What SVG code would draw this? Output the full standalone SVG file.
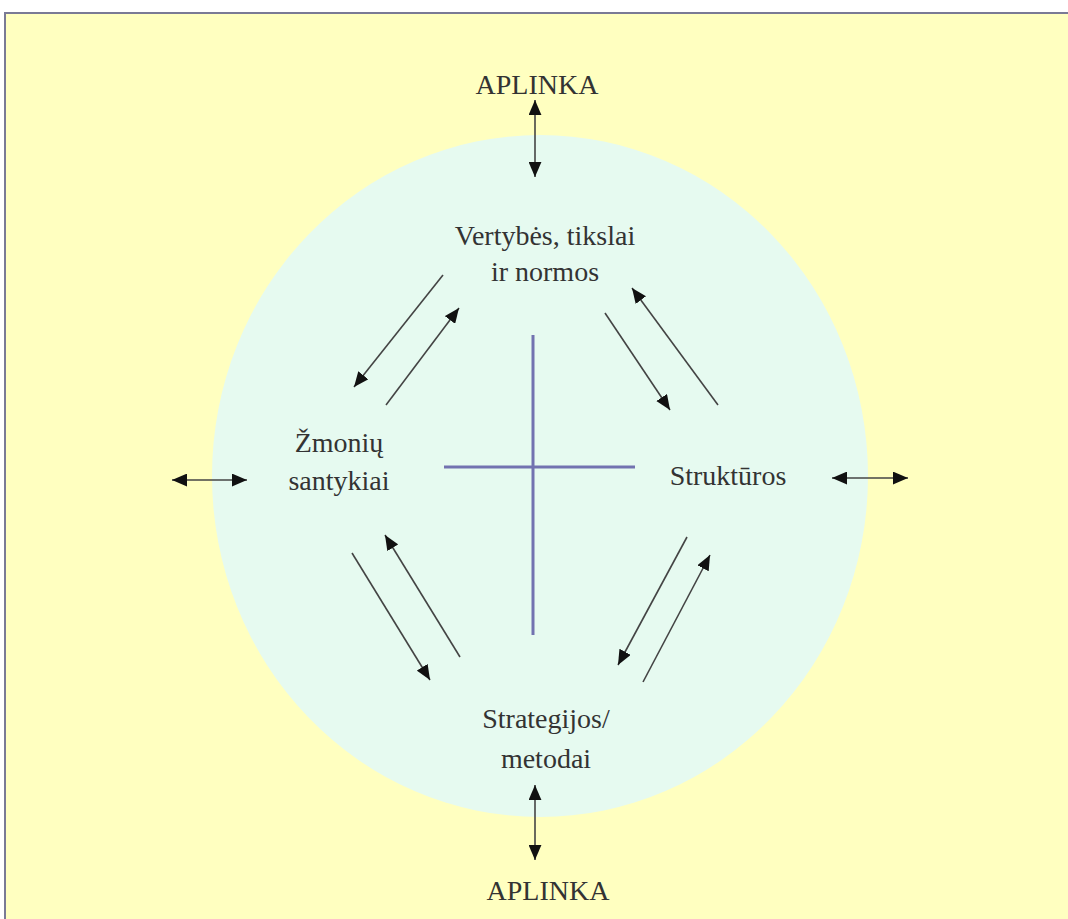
<svg xmlns="http://www.w3.org/2000/svg" width="1068" height="919" viewBox="0 0 1068 919">
<style>
.t{font-family:"Liberation Serif","Times New Roman",serif;font-size:28px;fill:#333;text-anchor:middle}
.c{stroke:#444;stroke-width:1.6;fill:none}
.x{stroke:#7272b0;stroke-width:3;fill:none}
</style>
<defs>
<marker id="ah" viewBox="0 0 14 12" refX="14" refY="6" markerWidth="15" markerHeight="13" markerUnits="userSpaceOnUse" orient="auto-start-reverse">
<path d="M0,0 L14,6 L0,12 Z" fill="#111"/>
</marker>
</defs>
<rect x="0" y="0" width="1068" height="919" fill="#ffffff"/>
<rect x="5" y="13" width="1070" height="920" fill="#ffffc0" stroke="#7a7a95" stroke-width="2"/>
<ellipse cx="540" cy="476" rx="328" ry="341" fill="#e6faf0"/>
<g id="cross">
<line class="x" x1="533" y1="335" x2="533" y2="635"/>
<line class="x" x1="444" y1="467" x2="635" y2="467"/>
</g>
<g id="aplinka-top"><text class="t" x="537" y="94">APLINKA</text></g>
<g id="vertybes"><text class="t" x="545" y="245">Vertybės, tikslai</text><text class="t" x="545" y="281">ir normos</text></g>
<g id="zmoniu"><text class="t" x="339" y="452">Žmonių</text><text class="t" x="339" y="490">santykiai</text></g>
<g id="strukturos"><text class="t" x="728" y="485">Struktūros</text></g>
<g id="strategijos"><text class="t" x="546" y="728">Strategijos/</text><text class="t" x="546" y="768">metodai</text></g>
<g id="aplinka-bottom"><text class="t" x="548" y="900">APLINKA</text></g>
<g id="connectors">
<line class="c" x1="535" y1="100" x2="535" y2="177" marker-start="url(#ah)" marker-end="url(#ah)"/>
<line class="c" x1="535" y1="785" x2="535" y2="860" marker-start="url(#ah)" marker-end="url(#ah)"/>
<line class="c" x1="172" y1="480" x2="247" y2="480" marker-start="url(#ah)" marker-end="url(#ah)"/>
<line class="c" x1="832" y1="478" x2="908" y2="478" marker-start="url(#ah)" marker-end="url(#ah)"/>
<line class="c" x1="443" y1="275" x2="354" y2="387" marker-end="url(#ah)"/>
<line class="c" x1="386" y1="405" x2="459" y2="308" marker-end="url(#ah)"/>
<line class="c" x1="605" y1="313" x2="670" y2="410" marker-end="url(#ah)"/>
<line class="c" x1="718" y1="405" x2="632" y2="288" marker-end="url(#ah)"/>
<line class="c" x1="352" y1="553" x2="430" y2="680" marker-end="url(#ah)"/>
<line class="c" x1="460" y1="657" x2="385" y2="535" marker-end="url(#ah)"/>
<line class="c" x1="687" y1="537" x2="618" y2="665" marker-end="url(#ah)"/>
<line class="c" x1="643" y1="682" x2="710" y2="555" marker-end="url(#ah)"/>
</g>
</svg>
